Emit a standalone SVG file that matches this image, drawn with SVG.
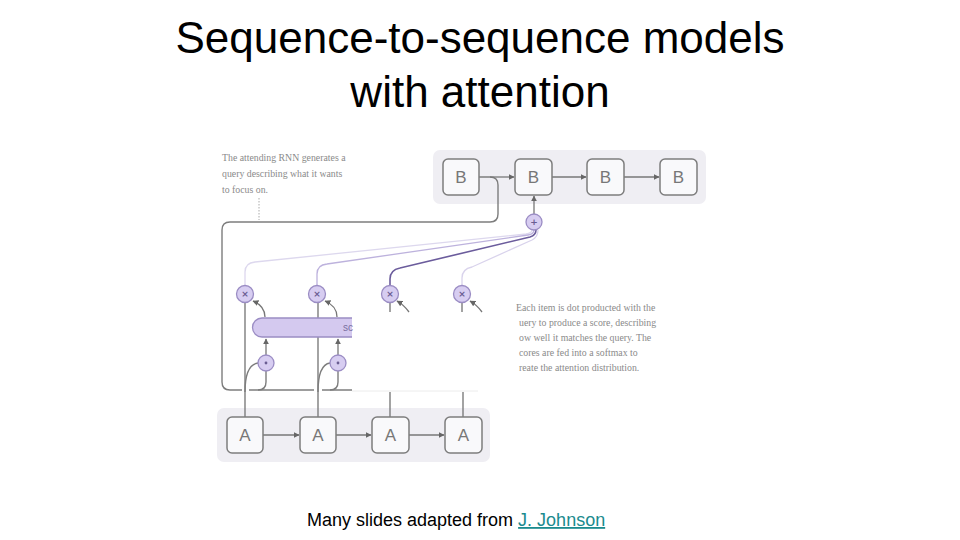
<svg xmlns="http://www.w3.org/2000/svg" width="960" height="540" viewBox="0 0 960 540">
<defs>
<marker id="ah" viewBox="0 0 10 10" refX="9" refY="5" markerWidth="6" markerHeight="6" orient="auto" markerUnits="userSpaceOnUse">
<path d="M0,0 L10,5 L0,10 z" fill="#666"/>
</marker>
<style>
.title{font-family:"Liberation Sans",Arial,sans-serif;font-size:44px;fill:#000;text-anchor:middle}
.panel{fill:#efeef3}
.box{fill:#f9f9fb;stroke:#7d7d7d;stroke-width:1.5}
.lbl{font-family:"Liberation Sans",Arial,sans-serif;font-size:17px;fill:#777;text-anchor:middle;dominant-baseline:central}
.op{fill:#d7cdf1;stroke:#9b8dc4;stroke-width:1.3}
.opt{font-family:"DejaVu Sans",sans-serif;font-size:9px;font-weight:bold;fill:#6a5d92;text-anchor:middle;dominant-baseline:central}
.ln{fill:none;stroke:#7d7d7d;stroke-width:1.4}
.arr{fill:none;stroke:#777;stroke-width:1.3;marker-end:url(#ah)}
.note{font-family:"Liberation Serif","Times New Roman",serif;font-size:9.8px;fill:#8a8a8a}
.foot{font-family:"Liberation Sans",Arial,sans-serif;font-size:18px;fill:#000}
</style>
</defs>
<rect width="960" height="540" fill="#fff"/>
<text class="title" x="480" y="53">Sequence-to-sequence models</text>
<text class="title" x="480" y="107">with attention</text>

<rect class="panel" x="433" y="150" width="273" height="54" rx="7"/>
<rect class="panel" x="217" y="408" width="273" height="54" rx="7"/>

<g id="connectors">
<!-- loop from B1 -->
<path class="ln" d="M479,177 H490 Q498,177 498,185 V214 Q498,222 490,222 H230 Q222,222 222,230 V382 Q222,390 230,390 H242 M249,390 H314 M322,390 H352"/>
<path d="M352,391 H478" fill="none" stroke="#ececec" stroke-width="1"/>
<!-- B chain -->
<path class="arr" d="M490,177 H514"/>
<path class="arr" d="M552,177 H586"/>
<path class="arr" d="M624,177 H659"/>
<!-- A chain -->
<path class="arr" d="M263,435 H299"/>
<path class="arr" d="M336,435 H371"/>
<path class="arr" d="M409,435 H444"/>
<!-- A verticals -->
<path class="ln" d="M245,417 V302"/>
<path class="ln" d="M318,417 V302"/>
<path class="ln" d="M390,417 V392 M390,302 V312"/>
<path class="ln" d="M463,417 V392 M462,302 V312"/>
<!-- key branches into dot nodes -->
<path class="ln" d="M245,392 C245,372 250,364 258,363"/>
<path class="ln" d="M318,392 C318,372 323,364 330,363"/>
<!-- query into dot nodes -->
<path class="ln" d="M258,390 Q266,390 266,382 V371"/>
<path class="ln" d="M330,390 Q338,390 338,382 V371"/>
<!-- dot to score bar -->
<path class="arr" d="M266,355 V339"/>
<path class="arr" d="M338,355 V339"/>
<!-- score to x nodes -->
<path class="arr" d="M265,317 Q265,306 253,301"/>
<path class="arr" d="M337,317 Q337,306 325,301"/>
<path class="arr" d="M409,312 Q404,305 397,301"/>
<path class="arr" d="M482,312 Q477,305 470,301"/>
<!-- x nodes to + -->
<path d="M245,286 V272 Q245,263 255,262 L526,234 Q532,233 532,230" fill="none" stroke="#ddd8ee" stroke-width="1.3"/>
<path d="M317,286 V274 Q317,265 327,264 L528,235 Q534,234 534,230" fill="none" stroke="#bdb2dd" stroke-width="1.3"/>
<path d="M390,286 V279 Q390,270 400,268 L530,237 Q536,235 536,230" fill="none" stroke="#6b5c9c" stroke-width="1.6"/>
<path d="M462,286 V278 Q462,269 472,267 L532,240 Q538,237 538,230" fill="none" stroke="#d9d3ec" stroke-width="1.3"/>
<!-- + to B2 -->
<path class="arr" d="M534,214 V196"/>
<!-- dotted note pointer -->
<path d="M259,198 V220" fill="none" stroke="#aaa" stroke-width="1" stroke-dasharray="1.5,1.5"/>
</g>

<g id="score">
<rect x="262" y="318" width="90" height="19" fill="#d4c9ef"/>
<path d="M352,318 H262 A9.5,9.5 0 0 0 262,337 H352" fill="#d4c9ef" stroke="#9b8dc4" stroke-width="1.3"/>
<text x="343" y="331" style="fill:#7a6fa0;font-family:'Liberation Sans',sans-serif;font-size:10px">sc</text>
</g>

<g id="B1"><rect class="box" x="443" y="159" width="36" height="36" rx="5"/><text class="lbl" x="461" y="177">B</text></g>
<g id="B2"><rect class="box" x="515" y="159" width="37" height="36" rx="5"/><text class="lbl" x="533.5" y="177">B</text></g>
<g id="B3"><rect class="box" x="587" y="159" width="37" height="36" rx="5"/><text class="lbl" x="605.5" y="177">B</text></g>
<g id="B4"><rect class="box" x="660" y="159" width="37" height="36" rx="5"/><text class="lbl" x="678.5" y="177">B</text></g>

<g id="A1"><rect class="box" x="227" y="417" width="36" height="36" rx="5"/><text class="lbl" x="245" y="435">A</text></g>
<g id="A2"><rect class="box" x="300" y="417" width="36" height="36" rx="5"/><text class="lbl" x="318" y="435">A</text></g>
<g id="A3"><rect class="box" x="372" y="417" width="37" height="36" rx="5"/><text class="lbl" x="390.5" y="435">A</text></g>
<g id="A4"><rect class="box" x="445" y="417" width="37" height="36" rx="5"/><text class="lbl" x="463.5" y="435">A</text></g>

<g id="plus"><circle class="op" cx="534" cy="222" r="8"/><text class="opt" x="534" y="222">+</text></g>
<g id="mul1"><circle class="op" cx="245" cy="294" r="8.5"/><text class="opt" x="245" y="294">×</text></g>
<g id="mul2"><circle class="op" cx="317" cy="294" r="8.5"/><text class="opt" x="317" y="294">×</text></g>
<g id="mul3"><circle class="op" cx="390" cy="294" r="8.5"/><text class="opt" x="390" y="294">×</text></g>
<g id="mul4"><circle class="op" cx="462" cy="294" r="8.5"/><text class="opt" x="462" y="294">×</text></g>
<g id="dot1"><circle class="op" cx="266" cy="363" r="8"/><circle cx="266" cy="363" r="1.4" fill="#6a5d92"/></g>
<g id="dot2"><circle class="op" cx="338" cy="363" r="8"/><circle cx="338" cy="363" r="1.4" fill="#6a5d92"/></g>

<g id="note-query">
<text class="note" x="222" y="161">The attending RNN generates a</text>
<text class="note" x="222" y="177">query describing what it wants</text>
<text class="note" x="222" y="193">to focus on.</text>
</g>
<g id="note-score">
<text class="note" x="516" y="311">Each item is dot producted with the</text>
<text class="note" x="519" y="326">uery to produce a score, describing</text>
<text class="note" x="519" y="341">ow well it matches the query. The</text>
<text class="note" x="519" y="356">cores are fed into a softmax to</text>
<text class="note" x="519" y="371">reate the attention distribution.</text>
</g>

<text class="foot" x="307" y="526">Many slides adapted from <tspan fill="#1b8b8e" text-decoration="underline">J. Johnson</tspan></text>
</svg>
